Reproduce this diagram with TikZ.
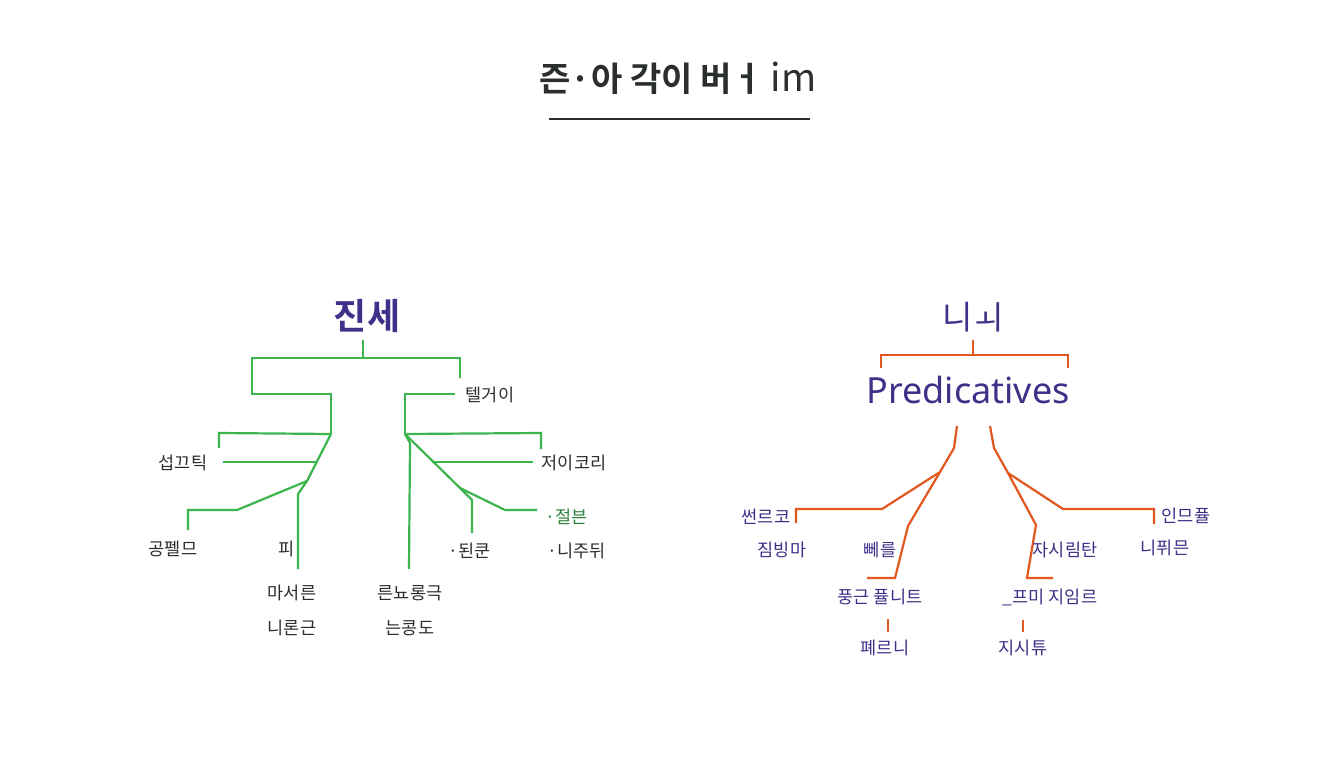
\documentclass[tikz,border=0pt]{standalone}
\usepackage{fontspec}
\newfontfamily\kr{Noto Sans CJK KR}
\newfontfamily\krb{Noto Sans CJK KR Bold}
\newfontfamily\lat{Noto Sans}
\definecolor{grn}{HTML}{3DB54E}
\definecolor{org}{HTML}{E2561F}
\definecolor{pur}{HTML}{3F3189}
\definecolor{ink}{HTML}{2A2F2E}
\begin{document}
\begin{tikzpicture}[x=1pt,y=-1pt,
  gl/.style={draw=grn,line width=2.2pt},
  ol/.style={draw=org,line width=2.2pt},
  lab/.style={font=\kr\fontsize{17.5}{20}\selectfont,text=ink,inner sep=0pt},
  rlab/.style={font=\kr\fontsize{17.5}{20}\selectfont,text=pur,inner sep=0pt},
  head/.style={font=\krb\fontsize{36}{40}\selectfont,text=pur,inner sep=0pt}]
\useasboundingbox (0,0) rectangle (1344,768);
\fill[white] (0,0) rectangle (1344,768);
% title
\node[inner sep=0pt,text=ink] (title) at (678,78) {\krb\fontsize{34}{38}\selectfont 즌·아 각이 버ㅓ {\kr\fontsize{38}{40}\selectfont im}};
\coordinate (ul1) at (549,119); \coordinate (ul2) at (810,119);
\draw[ink,line width=1.6pt] (ul1) -- (ul2);
% ---------- left tree ----------
\node[head] (lh) at (367,316) {진세};
\coordinate (a0) at (363,340); \coordinate (a1) at (363,358);
\coordinate (aL) at (252,358); \coordinate (aR) at (460,358); \coordinate (aRd) at (460,378);
\coordinate (b1) at (252,394); \coordinate (b2) at (331,394); \coordinate (b3) at (331,434);
\coordinate (c1) at (455,394); \coordinate (c2) at (405,394); \coordinate (c3) at (405,434);
\draw[gl] (a0) -- (a1);
\draw[gl] (aRd) -- (aR) -- (aL) -- (b1) -- (b2) -- (b3);
\draw[gl] (c1) -- (c2) -- (c3);
\node[lab] (t1) at (490,395) {텔거이};
% left trunk
\coordinate (d1) at (219,448); \coordinate (d2) at (219,433);
\draw[gl] (d1) -- (d2) -- (b3);
\coordinate (e1) at (223,462); \coordinate (e2) at (316,462);
\draw[gl] (e1) -- (e2);
\coordinate (f1) at (307,481); \coordinate (f2) at (298,494); \coordinate (f3) at (298,569);
\draw[gl] (b3) -- (f1) -- (f2) -- (f3);
\coordinate (g1) at (237,510); \coordinate (g2) at (188,510); \coordinate (g3) at (188,530);
\draw[gl] (f1) -- (g1) -- (g2) -- (g3);
\node[lab] (l1) at (183,463) {섭끄틱};
\node[lab] (l2) at (173,549) {공펠므};
\node[lab] (l3) at (287,549) {피};
\node[lab] (l4) at (292,593) {마서른};
\node[lab] (l5) at (292,628) {니론근};
% right trunk
\coordinate (h1) at (541,449); \coordinate (h2) at (541,433);
\draw[gl] (h1) -- (h2) -- (c3);
\coordinate (i1) at (410,443); \coordinate (i2) at (409,569);
\draw[gl] (c3) -- (i1) -- (i2);
\coordinate (j1) at (460,488); \coordinate (j2) at (472,500); \coordinate (j3) at (472,533);
\draw[gl] (c3) -- (j1) -- (j2) -- (j3);
\coordinate (k1) at (505,510); \coordinate (k2) at (537,510);
\draw[gl] (j1) -- (k1) -- (k2);
\coordinate (m1) at (432,462); \coordinate (m2) at (533,462);
\draw[gl] (m1) -- (m2);
\node[lab] (r1) at (574,463) {저이코리};
\node[lab,text=grn!70!black] (r2) at (567,517) {·절븐};
\node[lab] (r3) at (470,551) {·된쿤};
\node[lab] (r4) at (577,551) {·니주뒤};
\node[lab] (r5) at (410,593) {른뇨롱극};
\node[lab] (r6) at (410,628) {는콩도};
% ---------- right tree ----------
\node[head,font=\kr\fontsize{33}{36}\selectfont] (rh) at (973,317) {니ㅚ};
\coordinate (p0) at (973,340); \coordinate (p1) at (973,355);
\coordinate (pL) at (881,355); \coordinate (pR) at (1068,355);
\coordinate (pLd) at (881,368); \coordinate (pRd) at (1068,368);
\draw[ol] (p0) -- (p1);
\draw[ol] (pLd) -- (pL) -- (pR) -- (pRd);
\node[inner sep=0pt,text=pur,font=\lat\fontsize{36}{40}\selectfont] (pred) at (968,390) {Predicatives};
% left branch
\coordinate (q0) at (957,426); \coordinate (q1) at (954,448); \coordinate (q2) at (940,472);
\coordinate (q3) at (908,526); \coordinate (q4) at (895,578); \coordinate (q5) at (867,578);
\draw[ol] (q0) -- (q1) -- (q2) -- (q3) -- (q4) -- (q5);
\coordinate (s1) at (882,509); \coordinate (s2) at (796,509); \coordinate (s3) at (796,523);
\draw[ol] (q2) -- (s1) -- (s2) -- (s3);
% right branch
\coordinate (u0) at (990,426); \coordinate (u1) at (994,448); \coordinate (u2) at (1008,473);
\coordinate (u3) at (1036,525); \coordinate (u4) at (1027,578); \coordinate (u5) at (1053,578);
\draw[ol] (u0) -- (u1) -- (u2) -- (u3) -- (u4) -- (u5);
\coordinate (v1) at (1063,509); \coordinate (v2) at (1154,509); \coordinate (v3) at (1154,524);
\draw[ol] (u2) -- (v1) -- (v2) -- (v3);
\coordinate (w1) at (888,619); \coordinate (w2) at (888,632);
\draw[ol] (w1) -- (w2);
\coordinate (x1) at (1023,620); \coordinate (x2) at (1023,632);
\draw[ol] (x1) -- (x2);
\node[rlab] (n1) at (766,517) {썬르코};
\node[rlab] (n2) at (782,550) {짐빙마};
\node[rlab] (n3) at (880,550) {뻬를};
\node[rlab] (n4) at (880,597) {풍근 퓰니트};
\node[rlab] (n5) at (885,648) {폐르니};
\node[rlab] (n6) at (1186,516) {인므퓰};
\node[rlab] (n7) at (1165,548) {니퓌믄};
\node[rlab] (n8) at (1065,550) {자시림탄};
\node[rlab] (n9) at (1050,597) {\_프미 지임르};
\node[rlab] (n10) at (1023,648) {지시튜};
\end{tikzpicture}
\end{document}
